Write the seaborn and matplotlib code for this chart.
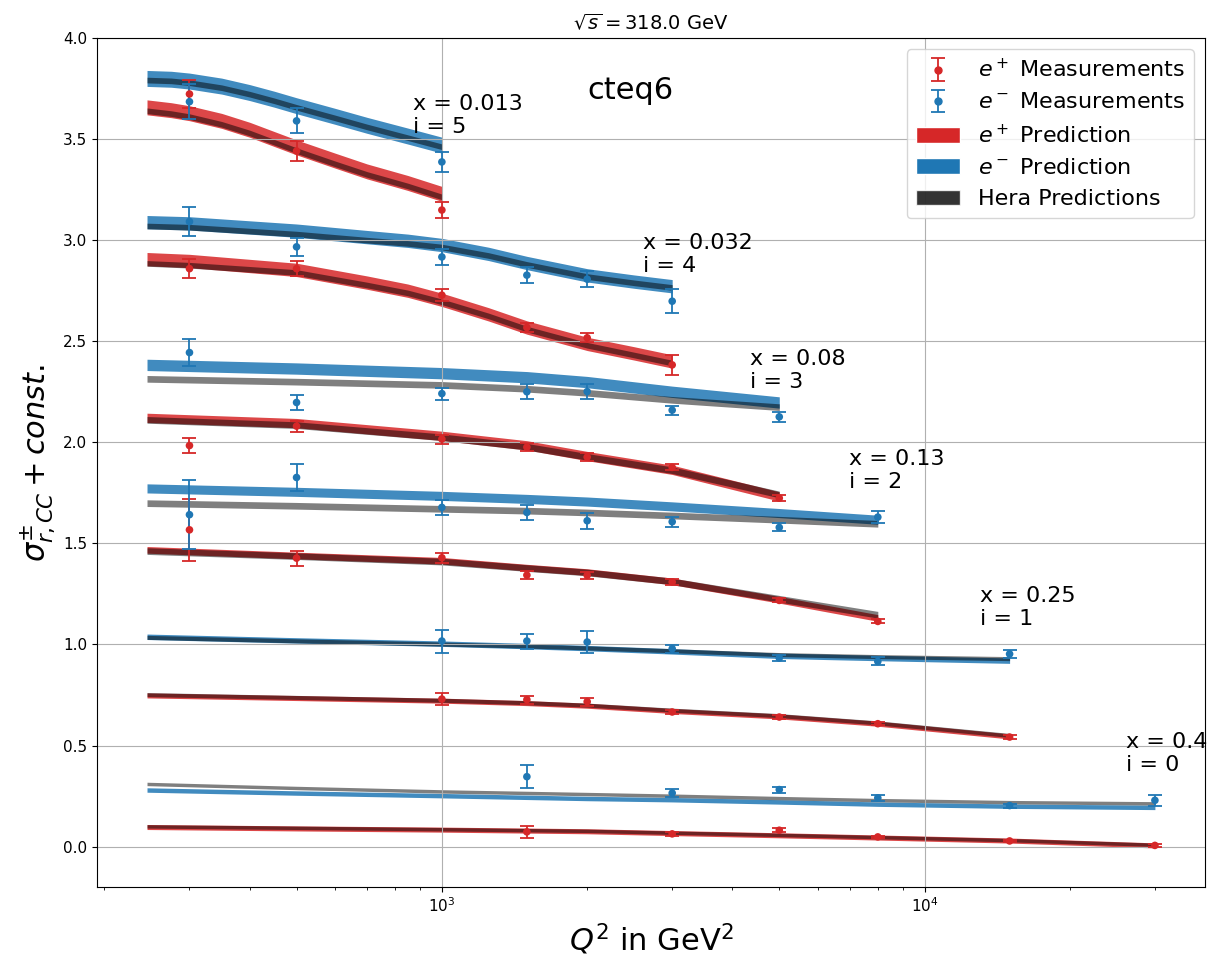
import numpy as np
import pandas as pd
import matplotlib
matplotlib.use("Agg")
import matplotlib.pyplot as plt
import seaborn as sns
from matplotlib.patches import Patch
from matplotlib.lines import Line2D
from matplotlib.legend_handler import HandlerTuple

# ---------------- data (index = bin i) ----------------
X_VALUES = [0.4, 0.25, 0.13, 0.08, 0.032, 0.013]

# measurements
Q_MEAS_EP = [
    [1500, 3000, 5000, 8000, 15000, 30000],
    [1000, 1500, 2000, 3000, 5000, 8000, 15000],
    [300, 500, 1000, 1500, 2000, 3000, 5000, 8000],
    [300, 500, 1000, 1500, 2000, 3000, 5000],
    [300, 500, 1000, 1500, 2000, 3000],
    [300, 500, 1000],
]
EP_MEAS = [
    [0.073, 0.063, 0.081, 0.048, 0.028, 0.006],
    [0.730, 0.727, 0.717, 0.666, 0.641, 0.608, 0.542],
    [1.567, 1.427, 1.429, 1.343, 1.342, 1.309, 1.218, 1.114],
    [1.984, 2.080, 2.016, 1.976, 1.927, 1.876, 1.724],
    [2.859, 2.859, 2.728, 2.568, 2.517, 2.383],
    [3.723, 3.441, 3.149],
]
EP_ERR = [
    [0.030, 0.010, 0.010, 0.006, 0.006, 0.006],
    [0.028, 0.020, 0.020, 0.012, 0.010, 0.008, 0.008],
    [0.155, 0.037, 0.025, 0.018, 0.018, 0.015, 0.010, 0.010],
    [0.035, 0.027, 0.022, 0.020, 0.018, 0.015, 0.013],
    [0.046, 0.037, 0.029, 0.024, 0.022, 0.048],
    [0.070, 0.048, 0.040],
]
Q_MEAS_EM = [
    [1500, 3000, 5000, 8000, 15000, 30000],
    [1000, 1500, 2000, 3000, 5000, 8000, 15000],
    [300, 500, 1000, 1500, 2000, 3000, 5000, 8000],
    [300, 500, 1000, 1500, 2000, 3000, 5000],
    [300, 500, 1000, 1500, 2000, 3000],
    [300, 500, 1000],
]
EM_MEAS = [
    [0.346, 0.265, 0.282, 0.241, 0.203, 0.229],
    [1.017, 1.017, 1.012, 0.979, 0.933, 0.916, 0.953],
    [1.642, 1.826, 1.678, 1.653, 1.612, 1.607, 1.579, 1.630],
    [2.444, 2.197, 2.241, 2.250, 2.251, 2.159, 2.126],
    [3.092, 2.967, 2.917, 2.827, 2.807, 2.698],
    [3.685, 3.590, 3.387],
]
EM_ERR = [
    [0.057, 0.022, 0.015, 0.015, 0.010, 0.027],
    [0.057, 0.037, 0.055, 0.020, 0.015, 0.020, 0.022],
    [0.170, 0.068, 0.037, 0.037, 0.039, 0.025, 0.020, 0.030],
    [0.068, 0.039, 0.030, 0.038, 0.035, 0.022, 0.026],
    [0.072, 0.046, 0.039, 0.040, 0.038, 0.060],
    [0.087, 0.062, 0.050],
]

# predictions (central values)
Q_PRED = [
    [245, 500, 1000, 2000, 3000, 5000, 8000, 15000, 30000],
    [245, 500, 1000, 1500, 2000, 3000, 5000, 8000, 15000],
    [245, 500, 1000, 1500, 2000, 3000, 5000, 8000],
    [245, 500, 1000, 1500, 2000, 3000, 5000],
    [245, 300, 500, 700, 850, 1000, 1250, 1500, 2000, 2500, 3000],
    [245, 275, 300, 350, 400, 450, 500, 600, 700, 850, 1000],
]
EP_PRED = [
    [0.097, 0.090, 0.084, 0.076, 0.067, 0.056, 0.045, 0.030, 0.006],
    [0.748, 0.735, 0.722, 0.710, 0.697, 0.671, 0.644, 0.608, 0.545],
    [1.468, 1.440, 1.414, 1.380, 1.358, 1.312, 1.221, 1.131],
    [2.121, 2.095, 2.032, 1.985, 1.932, 1.864, 1.732],
    [2.906, 2.897, 2.853, 2.790, 2.750, 2.705, 2.633, 2.568, 2.487, 2.440, 2.400],
    [3.657, 3.643, 3.628, 3.590, 3.546, 3.500, 3.459, 3.394, 3.340, 3.283, 3.229],
]
EM_PRED = [
    [0.280, 0.265, 0.252, 0.238, 0.232, 0.221, 0.210, 0.200, 0.194],
    [1.038, 1.020, 1.004, 0.992, 0.982, 0.966, 0.944, 0.933, 0.920],
    [1.772, 1.755, 1.735, 1.720, 1.707, 1.683, 1.650, 1.617],
    [2.383, 2.365, 2.342, 2.322, 2.298, 2.250, 2.197],
    [3.089, 3.083, 3.047, 3.015, 2.997, 2.976, 2.932, 2.887, 2.826, 2.795, 2.772],
    [3.800, 3.796, 3.787, 3.762, 3.730, 3.697, 3.665, 3.613, 3.568, 3.515, 3.470],
]
HERA_EP = [
    [0.100, 0.093, 0.086, 0.078, 0.069, 0.058, 0.047, 0.032, 0.009],
    [0.752, 0.738, 0.724, 0.712, 0.700, 0.675, 0.648, 0.612, 0.550],
    [1.462, 1.437, 1.410, 1.378, 1.356, 1.312, 1.226, 1.147],
    [2.111, 2.085, 2.025, 1.978, 1.928, 1.862, 1.742],
    [2.885, 2.876, 2.840, 2.778, 2.739, 2.695, 2.625, 2.560, 2.480, 2.432, 2.392],
    [3.640, 3.626, 3.611, 3.573, 3.530, 3.484, 3.443, 3.378, 3.325, 3.268, 3.214],
]
HERA_EM = [
    [0.310, 0.290, 0.273, 0.260, 0.252, 0.240, 0.230, 0.220, 0.214],
    [1.035, 1.018, 1.002, 0.992, 0.983, 0.969, 0.950, 0.940, 0.930],
    [1.699, 1.686, 1.671, 1.662, 1.653, 1.638, 1.617, 1.597],
    [2.314, 2.300, 2.284, 2.265, 2.245, 2.210, 2.174],
    [3.070, 3.064, 3.030, 3.000, 2.984, 2.966, 2.924, 2.880, 2.820, 2.789, 2.766],
    [3.792, 3.788, 3.779, 3.754, 3.722, 3.689, 3.657, 3.605, 3.560, 3.507, 3.462],
]
# prediction uncertainty (full band width)
EP_UNC = [0.025, 0.025, 0.033, 0.046, 0.066, 0.074]
EM_UNC = [0.022, 0.027, 0.045, 0.056, 0.066, 0.079]
HERA_UNC = [0.017, 0.020, 0.033, 0.033, 0.028, 0.028]

RED = "#d62728"
BLUE = "#1f77b4"

# ---------------- style ----------------
sns.set_style("ticks", {
    "axes.edgecolor": "black", "axes.labelcolor": "black", "text.color": "black",
    "xtick.color": "black", "ytick.color": "black",
    "axes.grid": True, "grid.color": "#b0b0b0", "grid.linestyle": "-",
})
plt.rcParams["font.family"] = ["DejaVu Sans"]
plt.rcParams["mathtext.fontset"] = "dejavusans"
plt.rcParams["axes.axisbelow"] = "line"
plt.rcParams["axes.linewidth"] = 0.8

fig, ax = plt.subplots(figsize=(12.14, 9.6), dpi=100)
fig.subplots_adjust(left=0.0799, right=0.9926, top=0.9604, bottom=0.0760)
ax.set_xscale("log")

# long-form frame for measurement markers
rows = []
for i in range(6):
    for q, v in zip(Q_MEAS_EP[i], EP_MEAS[i]):
        rows.append({"Q2": q, "sigma": v, "beam": "e+"})
    for q, v in zip(Q_MEAS_EM[i], EM_MEAS[i]):
        rows.append({"Q2": q, "sigma": v, "beam": "e-"})
meas = pd.DataFrame(rows)

for i in range(6):
    q = np.array(Q_PRED[i], dtype=float)
    ep = np.array(EP_PRED[i]); em = np.array(EM_PRED[i])
    hp = np.array(HERA_EP[i]); hm = np.array(HERA_EM[i])
    ax.fill_between(q, ep - EP_UNC[i] / 2, ep + EP_UNC[i] / 2, color=RED, alpha=0.85, lw=0)
    ax.fill_between(q, em - EM_UNC[i] / 2, em + EM_UNC[i] / 2, color=BLUE, alpha=0.85, lw=0)
    ax.fill_between(q, hp - HERA_UNC[i] / 2, hp + HERA_UNC[i] / 2, color="black", alpha=0.5, lw=0)
    ax.fill_between(q, hm - HERA_UNC[i] / 2, hm + HERA_UNC[i] / 2, color="black", alpha=0.5, lw=0)

    eb_p = ax.errorbar(Q_MEAS_EP[i], EP_MEAS[i], yerr=EP_ERR[i], fmt="none", ecolor=RED,
                       elinewidth=1.3, capsize=5, capthick=1.3, zorder=3)
    eb_m = ax.errorbar(Q_MEAS_EM[i], EM_MEAS[i], yerr=EM_ERR[i], fmt="none", ecolor=BLUE,
                       elinewidth=1.3, capsize=5, capthick=1.3, zorder=3)
    if i == 0:
        eb_p0, eb_m0 = eb_p, eb_m

    ax.text(0.87 * max(Q_MEAS_EM[i]), EM_MEAS[i][-1] + 0.124,
            f"x = {X_VALUES[i]}\ni = {i}", fontsize=16, va="bottom", ha="left")

sns.scatterplot(data=meas, x="Q2", y="sigma", hue="beam", palette={"e+": RED, "e-": BLUE},
                s=30, linewidth=0, legend=False, ax=ax, zorder=4)

ax.text(2000, 3.70, "cteq6", fontsize=22)

ax.set_xlim(193, 38100)
ax.set_ylim(-0.2, 4.0)
ax.set_yticks(np.arange(0, 4.01, 0.5))
ax.grid(True, which="major", color="#b0b0b0", linewidth=0.8)
ax.grid(False, which="minor")
ax.tick_params(labelsize=11, direction="out", length=3.5, width=0.8, colors="black")
ax.tick_params(which="minor", length=2, width=0.6)
for s in ax.spines.values():
    s.set_visible(True)
    s.set_color("black")

ax.set_title(r"$\sqrt{s} = 318.0$ GeV", fontsize=14)
ax.set_xlabel(r"$Q^2$ in GeV$^2$", fontsize=22)
ax.set_ylabel(r"$\sigma^{\pm}_{r,CC} + const.$", fontsize=22)

mk_p = Line2D([], [], marker="o", color=RED, linestyle="none", markersize=5)
mk_m = Line2D([], [], marker="o", color=BLUE, linestyle="none", markersize=5)
handles = [(eb_p0, mk_p), (eb_m0, mk_m),
           Patch(facecolor=RED), Patch(facecolor=BLUE), Patch(facecolor="black", alpha=0.8)]
labels = [r"$e^+$ Measurements", r"$e^-$ Measurements", r"$e^+$ Prediction",
          r"$e^-$ Prediction", "Hera Predictions"]
ax.legend(handles, labels, loc="upper right", fontsize=16,
          handler_map={tuple: HandlerTuple(ndivide=1)}, frameon=True,
          framealpha=0.8, edgecolor="#cccccc", fancybox=True)

fig.savefig("out.png", dpi=100)
